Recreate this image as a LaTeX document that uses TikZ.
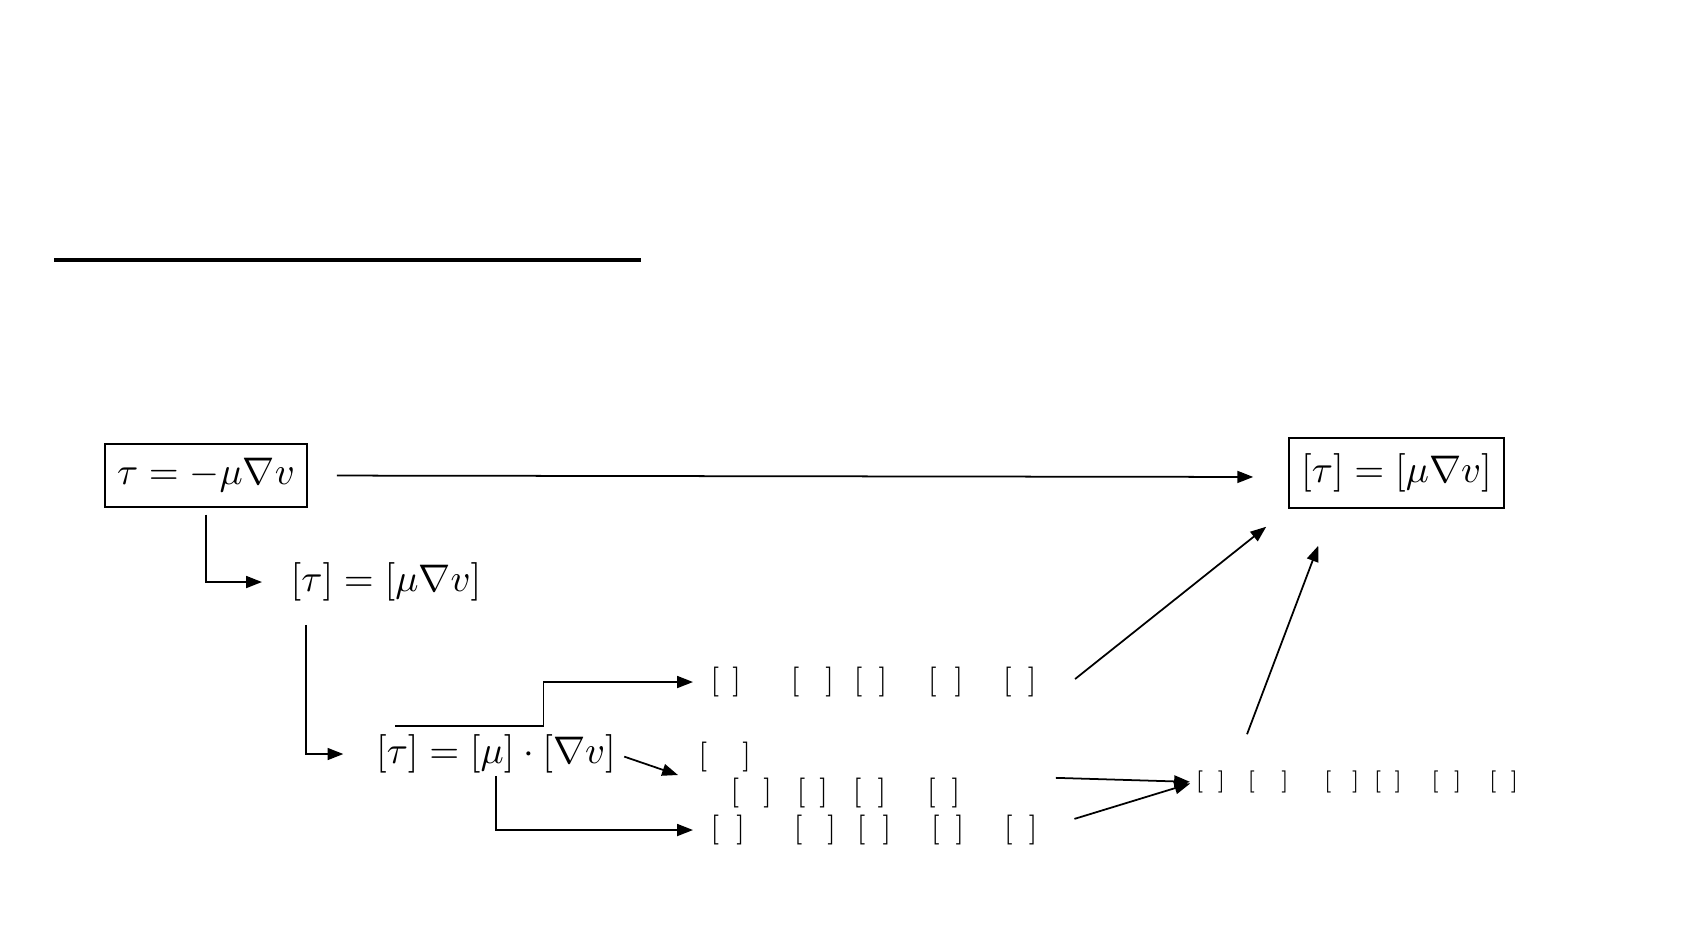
\documentclass[tikz,border=0pt]{standalone}
\usetikzlibrary{arrows.meta,positioning,calc}
\newcommand{\sqb}[1]{[\hspace{#1}]}

\begin{document}
\begin{tikzpicture}[x=0.01cm, y=-0.01cm,
  >={Triangle[length=4.5pt,width=3.4pt]},
  eq/.style={inner sep=0pt, font=\fontsize{11}{13}\selectfont},
  box/.style={draw, line width=0.4pt, inner sep=0pt, font=\fontsize{11}{13}\selectfont},
  row/.style={inner sep=0pt, anchor=west, align=left, font=\fontsize{8.5}{10.2}\selectfont},
  arr/.style={->, line width=0.5pt}]
\useasboundingbox (0,0) rectangle (1684,947);
\draw[line width=1.3pt] (54,260) -- (641,260);

% equations
\node[box, minimum width=2.02cm, minimum height=0.63cm] (law) at (206,475.5) {$\tau = -\mu\nabla v$};
\node[box, minimum width=2.15cm, minimum height=0.70cm] (dim) at (1396.5,473) {$[\tau] = [\mu\nabla v]$};
\node[eq] (dimeq) at (386,582) {$[\tau] = [\mu\nabla v]$};
\node[eq] (split) at (496,754) {$[\tau] = [\mu]\cdot[\nabla v]$};

% bracket rows
\node[row] (rowa) at (710,682) {\sqb{.13cm}\hspace{.50cm}\sqb{.26cm}\hspace{.20cm}\sqb{.16cm}\hspace{.41cm}\sqb{.18cm}\hspace{.40cm}\sqb{.16cm}};
\node[row] (rowb) at (698,775) {\sqb{.35cm}\\\hspace*{.32cm}\sqb{.24cm}\hspace{.25cm}\sqb{.14cm}\hspace{.25cm}\sqb{.16cm}\hspace{.41cm}\sqb{.16cm}};
\node[row] (rowc) at (710,830) {\sqb{.17cm}\hspace{.49cm}\sqb{.25cm}\hspace{.21cm}\sqb{.17cm}\hspace{.40cm}\sqb{.16cm}\hspace{.40cm}\sqb{.16cm}};
\node[row, font=\fontsize{6.3}{7.5}\selectfont] (rowd) at (1195,782) {\sqb{.14cm}\hspace{.22cm}\sqb{.26cm}\hspace{.35cm}\sqb{.20cm}\hspace{.14cm}\sqb{.13cm}\hspace{.29cm}\sqb{.15cm}\hspace{.27cm}\sqb{.14cm}};

\coordinate (tap) at ([xshift=0.2cm,yshift=0.08cm]split.north west);

% connectors
\draw[arr, shorten <=0.29cm, shorten >=0.35cm] (law.east) -- ([yshift=-0.04cm]dim.west);
\draw[arr, shorten <=0.07cm, shorten >=0.28cm] (law.south) |- (dimeq.west);
\draw[arr, shorten <=0.23cm, shorten >=0.32cm] ([xshift=-0.8cm]dimeq.south) |- (split.west);
\draw[arr, shorten >=0.17cm] (tap) -- ++(148,0) |- (rowa.west);
\draw[arr, shorten <=0.02cm, shorten >=0.17cm] (split.south) |- (rowc.west);
\draw[arr, shorten <=0.08cm] (split.east) -- ([xshift=-0.2cm]rowb.west);
\draw[arr] ([xshift=0.38cm,yshift=0.03cm]rowa.east) -- ([xshift=-0.22cm,yshift=-0.18cm]dim.south west);
\draw[arr] ([xshift=0.52cm,yshift=0.36cm]rowd.north west) -- ([xshift=0.30cm,yshift=-0.37cm]dim.south west);
\draw[arr, shorten <=0.95cm, shorten >=0.05cm] (rowb.east) -- (rowd.west);
\draw[arr, shorten <=0.38cm, shorten >=0.05cm] (rowc.east) -- (rowd.west);
\end{tikzpicture}
\end{document}
